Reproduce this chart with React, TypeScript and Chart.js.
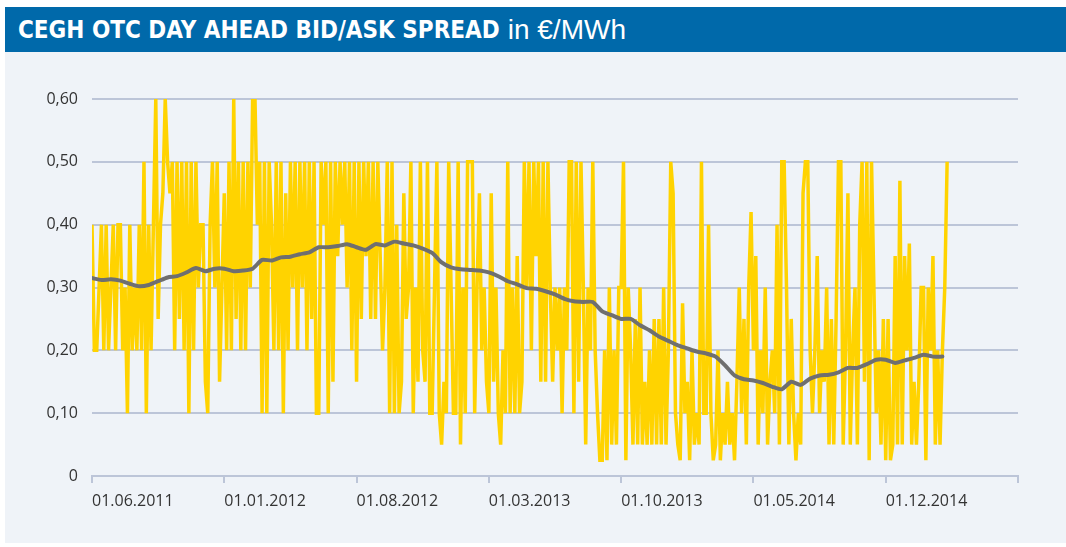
import React, { useEffect, useRef } from 'react';
import { Chart, registerables } from 'chart.js';

Chart.register(...registerables);

const TITLE_BOLD = 'CEGH OTC DAY AHEAD BID/ASK SPREAD';
const TITLE_UNIT = 'in €/MWh';

// x positions are measured in months from 01.06.2011
const SPREAD_POINTS_PER_MONTH = 8;
const AVERAGE_POINTS_PER_MONTH = 2;
const X_MIN = 0;
const X_MAX = 49;
const X_STEP = 7;
const xTickLabels = ['01.06.2011', '01.01.2012', '01.08.2012', '01.03.2013', '01.10.2013', '01.05.2014', '01.12.2014', ''];

const Y_MIN = 0;
const Y_MAX = 0.6;
const Y_STEP = 0.1;

// daily bid/ask spread (yellow), 8 samples per month
const spread: number[] = [
  0.40, 0.20, 0.20, 0.30, 0.40, 0.20, 0.40, 0.20,
  0.30, 0.40, 0.20, 0.40, 0.40, 0.20, 0.30, 0.10,
  0.40, 0.20, 0.30, 0.20, 0.40, 0.20, 0.50, 0.10,
  0.40, 0.20, 0.40, 0.60, 0.25, 0.40, 0.45, 0.60,
  0.50, 0.45, 0.50, 0.20, 0.50, 0.25, 0.50, 0.20,
  0.50, 0.10, 0.50, 0.20, 0.50, 0.30, 0.40, 0.40,
  0.15, 0.10, 0.40, 0.50, 0.30, 0.50, 0.15, 0.30,
  0.45, 0.20, 0.50, 0.20, 0.60, 0.25, 0.50, 0.20,
  0.50, 0.20, 0.50, 0.30, 0.60, 0.60, 0.40, 0.50,
  0.10, 0.50, 0.10, 0.50, 0.40, 0.20, 0.50, 0.20,
  0.50, 0.10, 0.45, 0.20, 0.50, 0.30, 0.50, 0.20,
  0.50, 0.30, 0.50, 0.20, 0.50, 0.25, 0.50, 0.10,
  0.10, 0.50, 0.40, 0.50, 0.10, 0.50, 0.15, 0.50,
  0.35, 0.50, 0.40, 0.50, 0.30, 0.50, 0.20, 0.50,
  0.15, 0.50, 0.25, 0.50, 0.35, 0.50, 0.25, 0.50,
  0.25, 0.50, 0.35, 0.20, 0.30, 0.50, 0.10, 0.50,
  0.10, 0.40, 0.10, 0.15, 0.45, 0.25, 0.30, 0.50,
  0.10, 0.30, 0.15, 0.50, 0.20, 0.15, 0.50, 0.10,
  0.10, 0.30, 0.50, 0.10, 0.05, 0.15, 0.10, 0.50,
  0.30, 0.10, 0.10, 0.50, 0.05, 0.30, 0.10, 0.50,
  0.50, 0.50, 0.10, 0.30, 0.45, 0.20, 0.30, 0.15,
  0.10, 0.45, 0.15, 0.30, 0.10, 0.05, 0.20, 0.10,
  0.50, 0.10, 0.30, 0.10, 0.35, 0.10, 0.15, 0.50,
  0.30, 0.50, 0.20, 0.50, 0.35, 0.50, 0.15, 0.50,
  0.15, 0.50, 0.30, 0.15, 0.30, 0.20, 0.30, 0.10,
  0.30, 0.20, 0.50, 0.50, 0.10, 0.50, 0.15, 0.50,
  0.30, 0.05, 0.30, 0.20, 0.50, 0.20, 0.10, 0.025,
  0.025, 0.20, 0.025, 0.30, 0.05, 0.20, 0.05, 0.30,
  0.30, 0.50, 0.025, 0.30, 0.20, 0.05, 0.25, 0.05,
  0.30, 0.05, 0.15, 0.05, 0.20, 0.05, 0.25, 0.05,
  0.25, 0.05, 0.30, 0.05, 0.20, 0.50, 0.45, 0.10,
  0.05, 0.025, 0.275, 0.10, 0.15, 0.025, 0.20, 0.05,
  0.10, 0.05, 0.50, 0.10, 0.10, 0.40, 0.10, 0.025,
  0.05, 0.20, 0.025, 0.10, 0.05, 0.15, 0.05, 0.10,
  0.025, 0.15, 0.30, 0.10, 0.25, 0.05, 0.30, 0.42,
  0.20, 0.35, 0.05, 0.20, 0.10, 0.30, 0.05, 0.15,
  0.20, 0.10, 0.40, 0.05, 0.50, 0.50, 0.30, 0.05,
  0.25, 0.10, 0.025, 0.10, 0.05, 0.45, 0.50, 0.50,
  0.20, 0.10, 0.20, 0.35, 0.10, 0.20, 0.15, 0.30,
  0.05, 0.25, 0.05, 0.25, 0.50, 0.50, 0.05, 0.20,
  0.45, 0.05, 0.20, 0.30, 0.05, 0.40, 0.50, 0.15,
  0.50, 0.025, 0.50, 0.30, 0.10, 0.20, 0.05, 0.25,
  0.025, 0.25, 0.025, 0.05, 0.35, 0.05, 0.47, 0.05,
  0.35, 0.20, 0.37, 0.05, 0.15, 0.05, 0.15, 0.30,
  0.30, 0.025, 0.30, 0.20, 0.35, 0.05, 0.20, 0.05,
  0.20, 0.30, 0.50,
];

// moving average (grey), 2 samples per month
const movingAverage: number[] = [
  0.315, 0.312, 0.313, 0.311, 0.306, 0.302, 0.304, 0.310,
  0.316, 0.318, 0.324, 0.331, 0.326, 0.330, 0.330, 0.326,
  0.327, 0.330, 0.344, 0.343, 0.348, 0.349, 0.353, 0.356,
  0.364, 0.364, 0.366, 0.369, 0.364, 0.360, 0.369, 0.367,
  0.373, 0.370, 0.367, 0.362, 0.355, 0.340, 0.332, 0.329,
  0.328, 0.327, 0.324, 0.318, 0.310, 0.305, 0.299, 0.298,
  0.294, 0.289, 0.282, 0.278, 0.277, 0.277, 0.262, 0.256,
  0.250, 0.250, 0.240, 0.232, 0.222, 0.215, 0.208, 0.203,
  0.198, 0.195, 0.190, 0.176, 0.160, 0.154, 0.152, 0.148,
  0.142, 0.138, 0.150, 0.145, 0.155, 0.160, 0.161, 0.165,
  0.172, 0.172, 0.178, 0.185, 0.185, 0.180, 0.184, 0.188,
  0.193, 0.190, 0.190,
];

const YELLOW = '#ffd300';
const GREY = '#6f6f6f';
const GRID = '#bcc5d8';
const TEXT = '#333333';
const BLUE = '#0069aa';
const PANEL = '#eff3f8';

export default function App() {
  const canvasRef = useRef<HTMLCanvasElement | null>(null);

  useEffect(() => {
    const canvas = canvasRef.current;
    if (!canvas) return;
    const spreadData = spread.map((v, i) => ({ x: i / SPREAD_POINTS_PER_MONTH, y: v }));
    const avgData = movingAverage.map((v, i) => ({ x: i / AVERAGE_POINTS_PER_MONTH, y: v }));
    const chart = new Chart(canvas, {
      type: 'line',
      data: {
        datasets: [
          {
            label: 'Average',
            data: avgData,
            borderColor: GREY,
            borderWidth: 4,
            pointRadius: 0,
            tension: 0.2,
            borderJoinStyle: 'round',
            borderCapStyle: 'round',
          },
          {
            label: 'Spread',
            data: spreadData,
            borderColor: YELLOW,
            borderWidth: 3.5,
            pointRadius: 0,
            tension: 0,
          },
        ],
      },
      options: {
        animation: false,
        responsive: false,
        events: [],
        layout: { padding: { left: 0, right: 48, top: 47, bottom: 0 } },
        plugins: { legend: { display: false }, tooltip: { enabled: false }, title: { display: false } },
        scales: {
          x: {
            type: 'linear',
            min: X_MIN,
            max: X_MAX,
            afterFit: (s: any) => { s.height = 71; },
            afterBuildTicks: (s: any) => {
              const t = [];
              for (let v = X_MIN; v <= X_MAX; v += X_STEP) t.push({ value: v });
              s.ticks = t;
            },
            ticks: {
              autoSkip: false,
              maxRotation: 0,
              align: 'start',
              padding: 9,
              color: TEXT,
              font: { family: '"Open Sans", sans-serif', size: 16 },
              callback: (_v: any, i: number) => xTickLabels[i] ?? '',
            },
            grid: { drawOnChartArea: false, drawTicks: true, tickLength: 7, color: GRID, lineWidth: 2 },
            border: { display: true, color: GRID, width: 2 },
          },
          y: {
            type: 'linear',
            min: Y_MIN,
            max: Y_MAX,
            afterFit: (s: any) => { s.width = 92; },
            ticks: {
              stepSize: Y_STEP,
              padding: 14,
              color: TEXT,
              font: { family: '"Open Sans", sans-serif', size: 16 },
              callback: (v: any) => (Math.abs(v) < 1e-9 ? '0' : Number(v).toFixed(2).replace('.', ',')),
            },
            grid: { color: GRID, lineWidth: 2, drawTicks: false },
            border: { display: false },
          },
        },
      },
    });
    return () => chart.destroy();
  }, []);

  return (
    <div style={{ position: 'absolute', left: 0, top: 0, width: 1066, height: 547, background: '#ffffff', overflow: 'hidden' }}>
      <div
        style={{
          position: 'absolute', left: 5, top: 7, width: 1061, height: 45, background: BLUE,
          display: 'flex', alignItems: 'center', paddingLeft: 13, boxSizing: 'border-box',
          color: '#ffffff', whiteSpace: 'nowrap',
        }}
      >
        <span style={{ fontFamily: '"Liberation Sans Narrow", "DejaVu Sans Condensed", "Arial Narrow", sans-serif', fontWeight: 700, fontSize: 24, fontStretch: 'condensed' }}>
          {TITLE_BOLD}
        </span>
        <span style={{ fontFamily: '"Liberation Sans", Arial, sans-serif', fontWeight: 400, fontSize: 28, marginLeft: 8 }}>
          {TITLE_UNIT}
        </span>
      </div>
      <div style={{ position: 'absolute', left: 5, top: 52, width: 1061, height: 491, background: PANEL }} />
      <canvas ref={canvasRef} width={1066} height={495} style={{ position: 'absolute', left: 0, top: 52, width: 1066, height: 495 }} />
    </div>
  );
}
